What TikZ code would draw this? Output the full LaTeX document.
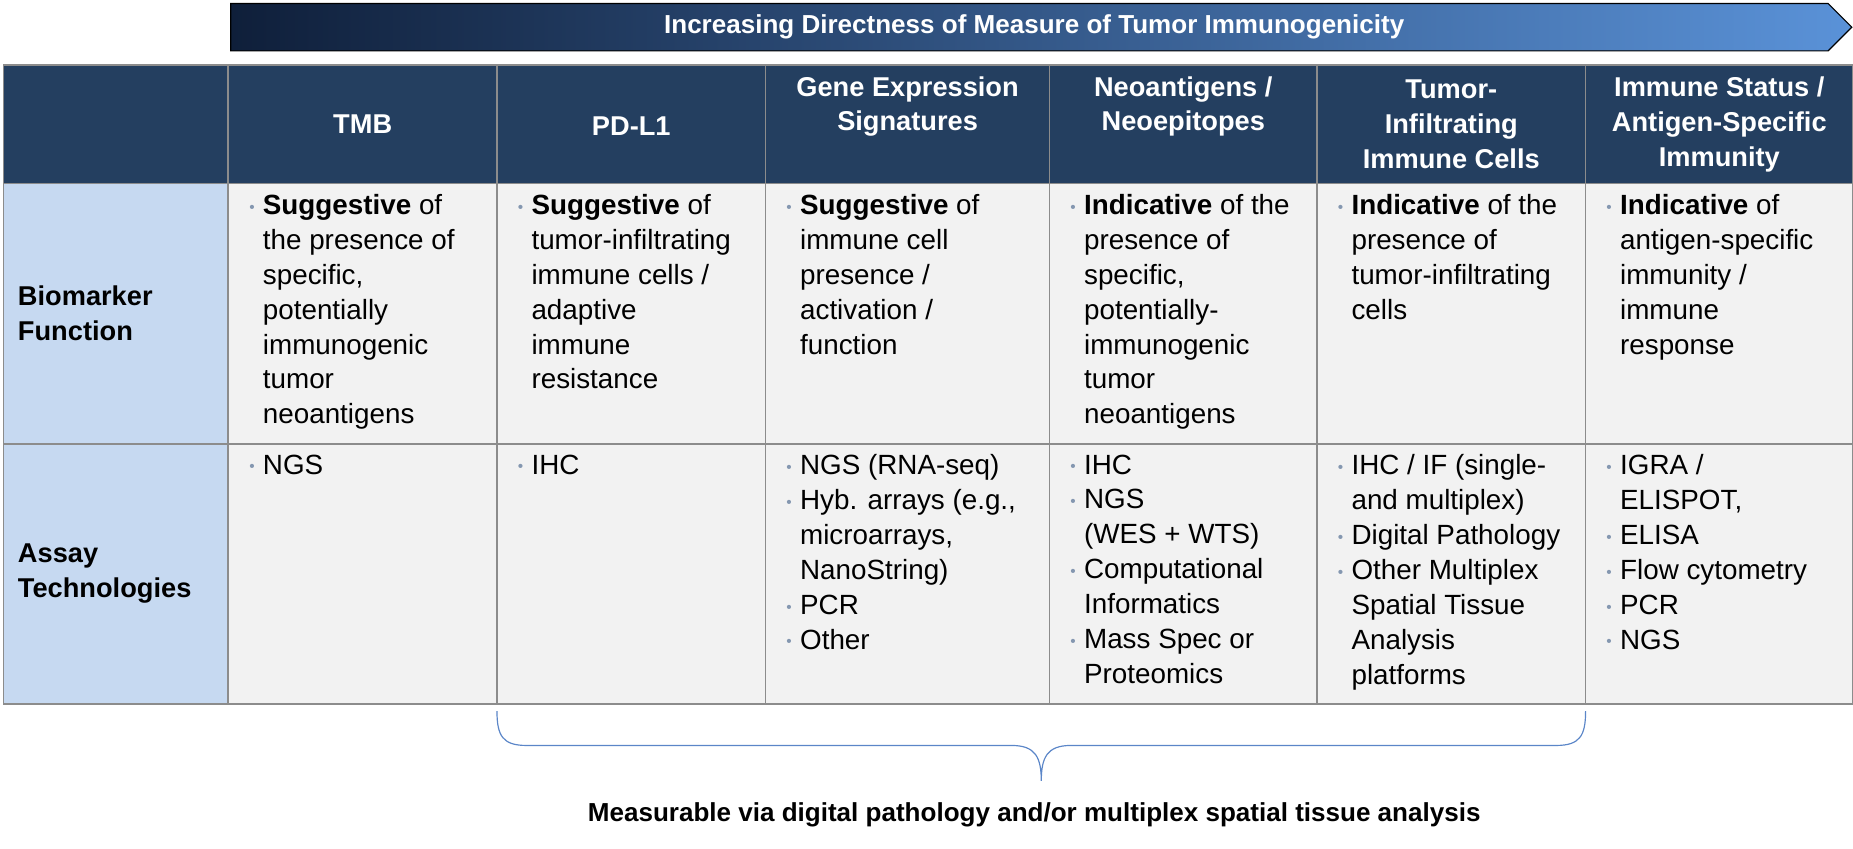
\documentclass[tikz,border=0pt]{standalone}
\usepackage{fontspec}
\setmainfont{Liberation Sans}
\definecolor{hdrc}{HTML}{243F60}
\definecolor{bordc}{HTML}{8C8C8C}
\definecolor{labc}{HTML}{C6D9F1}
\definecolor{cellc}{HTML}{F2F2F2}
\definecolor{bulc}{HTML}{8497B0}
\definecolor{arrL}{HTML}{0F1F3A}
\definecolor{arrR}{HTML}{5A92D8}
\definecolor{bracec}{HTML}{5B86C8}
\newcommand\bu{\llap{\textcolor{bulc}{\fontsize{13}{13}\selectfont\raisebox{2pt}{•}}\hspace{7pt}}}
\begin{document}
\begin{tikzpicture}[x=1pt,y=-1pt,
  box/.style={draw=bordc,line width=1.5pt,anchor=north west,inner sep=0pt,outer sep=0pt},
  hdr/.style={box,fill=hdrc},
  lab/.style={box,fill=labc},
  cel/.style={box,fill=cellc},
  htxt/.style={text=white,font=\bfseries\fontsize{23}{29.5}\selectfont,align=center,inner sep=0pt},
  ltxt/.style={font=\bfseries\fontsize{23}{29.5}\selectfont,align=left,anchor=west,inner sep=0pt},
  ctxt/.style={font=\fontsize{23.5}{29.5}\selectfont,align=left,anchor=north west,inner sep=0pt}]
\useasboundingbox (0,0) rectangle (1566,717);
% arrow
\shade[left color=arrL,right color=arrR,draw=black,line width=1pt] (195,3) -- (1545,3) -- (1565,23) -- (1545,43) -- (195,43) -- cycle;
\node[htxt,font=\bfseries\fontsize{22}{26}\selectfont] (title) at (874,23) {Increasing Directness of Measure of Tumor Immunogenicity};
% columns
\foreach \n/\xa/\xb in {0/3/193,1/193/420,2/420/647,3/647/887,4/887/1113,5/1113/1340,6/1340/1566}{
  \pgfmathsetmacro\w{\xb-\xa}
  \node[hdr,minimum width=\w pt,minimum height=100pt] (h\n) at (\xa,55) {};
  \ifnum\n=0
    \node[lab,minimum width=\w pt,minimum height=220pt] (a\n) at (\xa,155) {};
    \node[lab,minimum width=\w pt,minimum height=220pt] (b\n) at (\xa,375) {};
  \else
    \node[cel,minimum width=\w pt,minimum height=220pt] (a\n) at (\xa,155) {};
    \node[cel,minimum width=\w pt,minimum height=220pt] (b\n) at (\xa,375) {};
  \fi
}
% header texts
\node[htxt] (ht1) at (h1) {TMB};
\node[htxt] (ht2) at ([yshift=-2pt]h2.center) {PD-L1};
\node[htxt] (ht3) at ([yshift=15pt]h3.center) {Gene Expression\\Signatures};
\node[htxt] (ht4) at ([yshift=15pt]h4.center) {Neoantigens /\\Neoepitopes};
\node[htxt] (ht5) at (h5) {Tumor-\\Infiltrating\\Immune Cells};
\node[htxt] (ht6) at (h6) {Immune Status /\\Antigen-Specific\\Immunity};
% row labels
\node[ltxt] (l1) at (15,265) {Biomarker\\Function};
\node[ltxt] (l2) at (15,485) {Assay\\Technologies};
% row 1
\node[ctxt] (c11) at (222,164) {\bu\textbf{Suggestive} of\\the presence of\\specific,\\potentially\\immunogenic\\tumor\\neoantigens};
\node[ctxt] (c12) at (449,164) {\bu\textbf{Suggestive} of\\tumor-infiltrating\\immune cells /\\adaptive\\immune\\resistance};
\node[ctxt] (c13) at (676,164) {\bu\textbf{Suggestive} of\\immune cell\\presence /\\activation /\\function};
\node[ctxt] (c14) at (916,164) {\bu\textbf{Indicative} of the\\presence of\\specific,\\potentially-\\immunogenic\\tumor\\neoantigens};
\node[ctxt] (c15) at (1142,164) {\bu\textbf{Indicative} of the\\presence of\\tumor-infiltrating\\cells};
\node[ctxt] (c16) at (1369,164) {\bu\textbf{Indicative} of\\antigen-specific\\immunity /\\immune\\response};
% row 2
\node[ctxt] (c21) at (222,384) {\bu NGS};
\node[ctxt] (c22) at (449,384) {\bu IHC};
\node[ctxt] (c23) at (676,384) {\bu NGS (RNA-seq)\\\bu Hyb. arrays (e.g.,\\microarrays,\\NanoString)\\\bu PCR\\\bu Other};
\node[ctxt] (c24) at (916,384) {\bu IHC\\\bu NGS\\(WES + WTS)\\\bu Computational\\Informatics\\\bu Mass Spec or\\Proteomics};
\node[ctxt] (c25) at (1142,384) {\bu IHC / IF (single-\\and multiplex)\\\bu Digital Pathology\\\bu Other Multiplex\\Spatial Tissue\\Analysis\\platforms};
\node[ctxt] (c26) at (1369,384) {\bu IGRA /\\ELISPOT,\\\bu ELISA\\\bu Flow cytometry\\\bu PCR\\\bu NGS};
% brace
\coordinate (bl) at (420,601);
\coordinate (br) at (1340,601);
\coordinate (bt) at (880,660);
\draw[bracec,line width=1pt] (bl) .. controls (420,622) and (425,630) .. (445,630) -- (855,630) .. controls (875,630) and (880,640) .. (bt)
  .. controls (880,640) and (885,630) .. (905,630) -- (1315,630) .. controls (1335,630) and (1340,622) .. (br);
\node[font=\bfseries\fontsize{22}{26}\selectfont,inner sep=0pt] (bottom) at (874,689) {Measurable via digital pathology and/or multiplex spatial tissue analysis};
\end{tikzpicture}
\end{document}
